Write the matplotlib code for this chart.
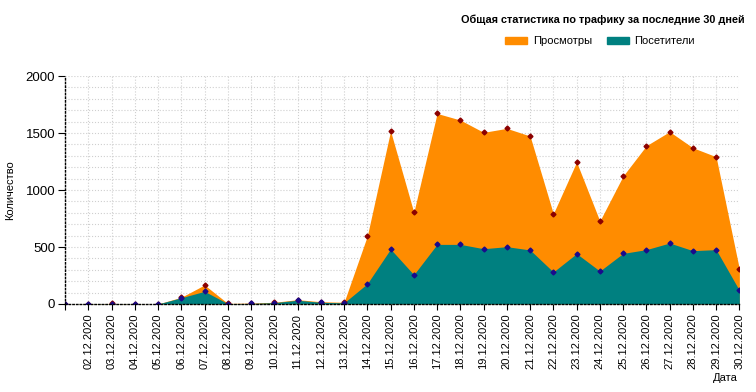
import numpy as np
import matplotlib
matplotlib.use("Agg")
import matplotlib.pyplot as plt
from matplotlib.patches import Patch

plt.rcParams['font.family'] = ['Liberation Sans', 'DejaVu Sans']

# data
dates = ["%02d.12.2020" % d for d in range(1, 31)]
views = [0, 3, 5, 3, 0, 59, 167, 5, 8, 15, 38, 20, 15, 597, 1518,
         804, 1672, 1614, 1506, 1541, 1474, 792, 1246, 728, 1123, 1389, 1512, 1371, 1292, 307]
visitors = [0, 2, 3, 2, 0, 55, 111, 3, 5, 12, 33, 15, 10, 178, 482,
            257, 523, 523, 485, 503, 474, 281, 442, 289, 444, 477, 535, 468, 477, 120]

title = "Общая статистика по трафику за последние 30 дней"
orange = "#FF8C00"
teal = "#008080"

fig = plt.figure(figsize=(7.56, 3.92), dpi=100)
ax = fig.add_axes([0.086, 0.2245, 0.892, 0.5815])

x = np.arange(len(dates))
ax.fill_between(x, views, color=orange, lw=0, zorder=2)
ax.fill_between(x, visitors, color=teal, lw=0, zorder=3)
ax.plot(x, views, ls='none', marker='D', ms=2.5, color='#8B0000', zorder=4)
ax.plot(x, visitors, ls='none', marker='D', ms=2.5, color='#1a0a8c', zorder=4)

ax.set_xlim(0, len(dates) - 1)
ax.set_ylim(0, 2000)
ax.set_yticks(range(0, 2001, 500))
ax.set_yticks(range(0, 2001, 100), minor=True)
ax.set_xticks(x)
ax.set_xticklabels([""] + dates[1:], rotation=90, fontsize=8)
ax.tick_params(axis='y', which='major', labelsize=9.5, length=5, pad=2)
ax.tick_params(axis='y', which='minor', length=0)
ax.tick_params(axis='x', length=4, pad=3)

ax.grid(True, which='both', axis='y', ls=':', color='#cfcfcf', lw=0.8, zorder=0)
ax.grid(True, which='major', axis='x', ls=':', color='#cfcfcf', lw=0.8, zorder=0)
ax.set_axisbelow(True)
for s in ['top', 'right']:
    ax.spines[s].set_visible(False)
for s in ['left', 'bottom']:
    ax.spines[s].set_linestyle(':')
    ax.spines[s].set_linewidth(1.0)
    ax.spines[s].set_zorder(5)

fig.text(5 / 756, 1 - 190 / 392, "Количество", rotation=90, fontsize=8,
         ha='left', va='center')
fig.text(738 / 756, 1 - 378 / 392, "Дата", fontsize=8, ha='right', va='center')
fig.text(745 / 756, 1 - 20 / 392, title, fontsize=7.8, fontweight='bold',
         ha='right', va='center')

handles = [Patch(color=orange, label="Просмотры"), Patch(color=teal, label="Посетители")]
fig.legend(handles=handles, loc='center', bbox_to_anchor=(600 / 756, 1 - 41 / 392),
           ncol=2, frameon=False, fontsize=8, handlelength=2.0, handleheight=0.6,
           columnspacing=1.3, handletextpad=0.5)

fig.savefig("out.png", dpi=100)
